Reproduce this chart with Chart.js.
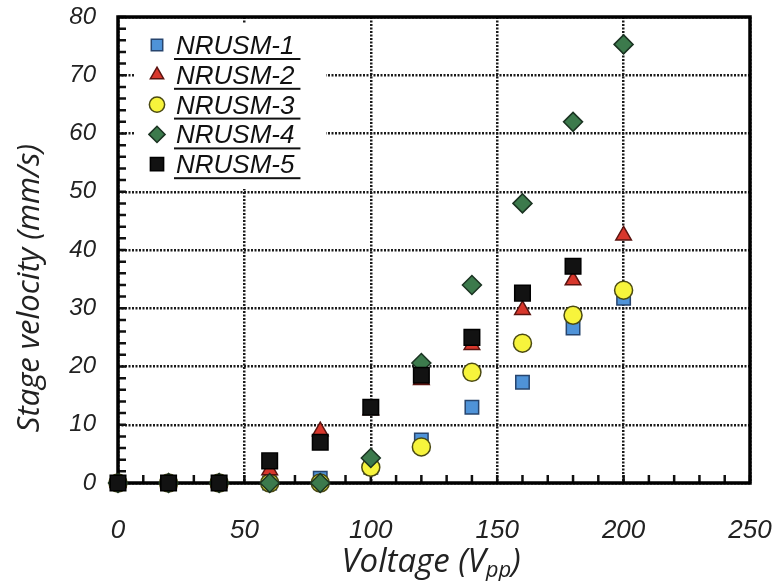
<!DOCTYPE html>
<html>
<head>
<meta charset="utf-8">
<script src="https://cdn.jsdelivr.net/npm/chart.js@4/dist/chart.umd.min.js"></script>
<style>
  html, body { margin: 0; padding: 0; background: #fff; }
  #wrap { position: relative; width: 777px; height: 581px; }
</style>
</head>
<body>
<div id="wrap"><canvas id="velocity-chart"></canvas></div>
<script>
// Stage velocity (mm/s) against drive voltage (Vpp)
const voltages = [0, 20, 40, 60, 80, 100, 120, 140, 160, 180, 200];
const nrusm1 = [0, 0, 0, 0, 0.8, 2.7, 7.4, 13.0, 17.3, 26.6, 31.7];
const nrusm2 = [0, 0, 0, 2.2, 8.9, 12.5, 17.7, 23.7, 29.7, 34.8, 42.5];
const nrusm3 = [0, 0, 0, 0, 0, 2.7, 6.2, 19.0, 24.0, 28.8, 33.1];
const nrusm4 = [0, 0, 0, 0, 0, 4.3, 20.6, 34.0, 48.0, 62.0, 75.3];
const nrusm5 = [0, 0, 0, 3.8, 7.0, 13.0, 18.5, 25.0, 32.6, 37.2, null];

const xTicks = [0, 50, 100, 150, 200, 250];
const yTicks = [0, 10, 20, 30, 40, 50, 60, 70, 80];

function pts(vals) {
  return voltages.map((v, i) => ({ x: v, y: vals[i] })).filter(p => p.y != null);
}

const series = [
  { label: 'NRUSM-1', data: nrusm1, style: 'rect', radius: 9.5, bg: '#4f93d8', border: '#27456e', order: 4 },
  { label: 'NRUSM-2', data: nrusm2, style: 'triangle', radius: 9, bg: '#d8372c', border: '#5a1410', order: 2 },
  { label: 'NRUSM-3', data: nrusm3, style: 'circle', radius: 9, bg: '#f7f43c', border: '#4b4a12', order: 3 },
  { label: 'NRUSM-4', data: nrusm4, style: 'rectRot', radius: 9.5, bg: '#3c7a4c', border: '#1b3322', order: 1 },
  { label: 'NRUSM-5', data: nrusm5, style: 'rect', radius: 11, bg: '#121212', border: '#000000', order: 0 },
];

// inward minor ticks, heavy frame, in-plot legend and axis titles
const decor = {
  id: 'decor',
  beforeDatasetsDraw(chart) {
    const { ctx, chartArea: a, scales: { x, y } } = chart;
    ctx.save();
    ctx.strokeStyle = '#111';
    ctx.lineWidth = 2.5;
    ctx.beginPath();
    for (let v = 0; v <= 80; v += 2) {
      const py = y.getPixelForValue(v);
      ctx.moveTo(a.left, py);
      ctx.lineTo(a.left + 8, py);
    }
    for (let v = 0; v <= 250; v += 10) {
      const px = x.getPixelForValue(v);
      ctx.moveTo(px, a.bottom);
      ctx.lineTo(px, a.bottom - 8);
    }
    ctx.stroke();
    ctx.strokeStyle = '#000';
    ctx.lineWidth = 3.5;
    ctx.strokeRect(a.left, a.top, a.right - a.left, a.bottom - a.top);
    ctx.restore();
  },
  afterDatasetsDraw(chart) {
    const { ctx, chartArea: a } = chart;
    const bx = a.left + 16, by = a.top + 6, bw = 192, bh = 166;
    ctx.save();
    ctx.fillStyle = '#fff';
    ctx.fillRect(bx, by, bw, bh);
    chart.data.datasets.forEach((ds, i) => {
      const cy = by + 22 + i * 29.8;
      const mx = bx + 23;
      ctx.fillStyle = ds.backgroundColor;
      ctx.strokeStyle = ds.borderColor;
      ctx.lineWidth = 1.5;
      Chart.helpers.drawPoint(ctx, { pointStyle: ds.pointStyle, radius: ds.pointRadius * 0.85, rotation: 0, borderWidth: 1.5 }, mx, cy);
      ctx.fillStyle = '#111';
      ctx.font = 'italic 26px "Liberation Sans", Arial, sans-serif';
      ctx.textBaseline = 'alphabetic';
      ctx.textAlign = 'left';
      const tx = bx + 42, ty = cy + 9;
      ctx.fillText(ds.label, tx, ty);
      const w = ctx.measureText(ds.label).width;
      ctx.fillRect(tx - 2, ty + 4, w + 8, 2);
    });
    ctx.restore();
  },
  afterDraw(chart) {
    const { ctx } = chart;
    ctx.save();
    ctx.fillStyle = '#222';
    ctx.textBaseline = 'middle';

    // y title
    ctx.save();
    ctx.translate(30, 288);
    ctx.rotate(-Math.PI / 2);
    ctx.textAlign = 'center';
    ctx.font = 'italic 31px "Open Sans", sans-serif';
    ctx.fillText('Stage velocity (mm/s)', 0, 0);
    ctx.restore();

    // x title with subscript pp
    const big = 'italic 33px "Open Sans", sans-serif';
    const small = 'italic 22px "Open Sans", sans-serif';
    const parts = [['Voltage (V', big, 0], ['pp', small, 8], [')', big, 0]];
    let total = 0;
    parts.forEach(p => { ctx.font = p[1]; total += ctx.measureText(p[0]).width; });
    let cx = 431 - total / 2;
    ctx.textAlign = 'left';
    parts.forEach(p => {
      ctx.font = p[1];
      ctx.fillText(p[0], cx, 563 + p[2]);
      cx += ctx.measureText(p[0]).width;
    });
    ctx.restore();
  },
};

new Chart(document.getElementById('velocity-chart'), {
  type: 'scatter',
  data: {
    datasets: series.map(s => ({
      label: s.label,
      data: pts(s.data),
      pointStyle: s.style,
      pointRadius: s.radius,
      pointHoverRadius: s.radius,
      backgroundColor: s.bg,
      borderColor: s.border,
      borderWidth: 1.5,
      order: s.order,
      clip: false,
    })),
  },
  options: {
    responsive: true,
    maintainAspectRatio: false,
    animation: false,
    layout: { padding: { top: 17, right: 27, left: 0, bottom: 0 } },
    plugins: { legend: { display: false }, tooltip: { enabled: false } },
    scales: {
      x: {
        type: 'linear',
        min: 0,
        max: 250,
        afterBuildTicks: s => { s.ticks = xTicks.map(v => ({ value: v })); },
        afterFit: s => { s.height = 98; s.paddingLeft = 0; s.paddingRight = 0; },
        ticks: { font: { family: '"Liberation Sans", Arial, sans-serif', size: 26, style: 'italic' }, color: '#222', padding: 32, maxRotation: 0 },
        grid: { color: '#1a1a1a', lineWidth: 2.5, drawTicks: false },
        border: { display: false, dash: [2, 1.5] },
      },
      y: {
        min: 0,
        max: 80,
        afterBuildTicks: s => { s.ticks = yTicks.map(v => ({ value: v })); },
        afterFit: s => { s.width = 118; s.paddingTop = 0; s.paddingBottom = 0; },
        ticks: { font: { family: '"Liberation Sans", Arial, sans-serif', size: 24, style: 'italic' }, color: '#222', padding: 22 },
        grid: { color: '#1a1a1a', lineWidth: 2.5, drawTicks: false },
        border: { display: false, dash: [2, 1.5] },
      },
    },
  },
  plugins: [decor],
});
</script>
</body>
</html>
